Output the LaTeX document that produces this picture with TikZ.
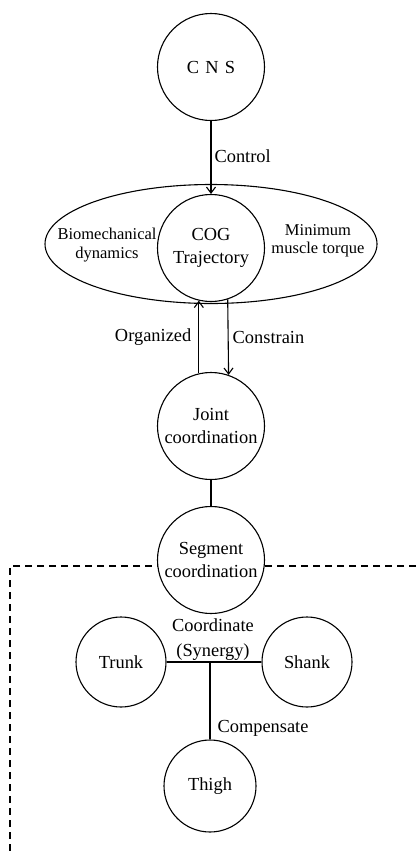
\documentclass[tikz,border=0pt]{standalone}
\usepackage{fontspec}
\setmainfont{Liberation Serif}
\usetikzlibrary{arrows.meta,shapes.geometric}
\begin{document}
\begin{tikzpicture}[x=1pt,y=-1pt,
  line width=1.1pt,
  txt/.style={font=\fontsize{18.4}{22.5}\selectfont, align=center, inner sep=0pt},
  small/.style={font=\fontsize{16.5}{18.5}\selectfont, align=center, inner sep=0pt},
  bigc/.style={circle, draw, fill=white, minimum size=107pt, inner sep=0pt, txt},
  smallc/.style={circle, draw, fill=white, minimum size=90pt, inner sep=0pt, txt},
  arr/.style={-{Straight Barb[length=6pt,width=9pt,line width=1.1pt]}},
  dashline/.style={dash pattern=on 7pt off 5pt, line width=1.2pt}]
\useasboundingbox (0,0) rectangle (416,852);
% dashed region
\coordinate (dR) at (416,566);
\coordinate (dC) at (10,566);
\coordinate (dB) at (10,852);
\draw[dashline] (dR) -- (dC) -- (dB);
% ellipse environment
\node[ellipse, draw, minimum width=332pt, minimum height=119pt, inner sep=0pt] (env) at (211,244) {};
\node[small] (bio) at (107,245) {Biomechanical\\dynamics};
\node[small] (mmt) at (318,241) {Minimum\\muscle torque};
% main column
\node[bigc] (cns) at (211,67) {C\,\,N\,\,S};
\node[bigc] (cog) at (211,248) {COG\\Trajectory};
\node[bigc] (joint) at (211,426) {Joint\\coordination};
\node[bigc] (seg) at (211,560) {Segment\\coordination};
% segments
\node[smallc] (trunk) at (121,662) {Trunk};
\node[smallc] (shank) at (307,662) {Shank};
\node[smallc, minimum size=92pt] (thigh) at (210,786) {Thigh};
% connectors
\draw[arr] (cns.south) -- node[txt, right=3pt, pos=0.48] (ctl) {Control} (cog.north);
\draw[arr] (joint.103) -- node[txt, left=7pt] (org) {Organized} (cog.257);
\draw[arr] (cog.288.5) -- node[txt, right=4pt] (con) {Constrain} (joint.71.5);
\draw (joint.south) -- (seg.north);
\draw (trunk.east) -- (shank.west);
\coordinate (jn) at (thigh.north |- trunk.east);
\draw (jn) -- node[txt, right=7pt, pos=0.86] (comp) {Compensate} (thigh.north);
\node[txt, font=\fontsize{18.4}{25}\selectfont] (coord) at (213,640) {Coordinate\\(Synergy)};
\end{tikzpicture}
\end{document}
